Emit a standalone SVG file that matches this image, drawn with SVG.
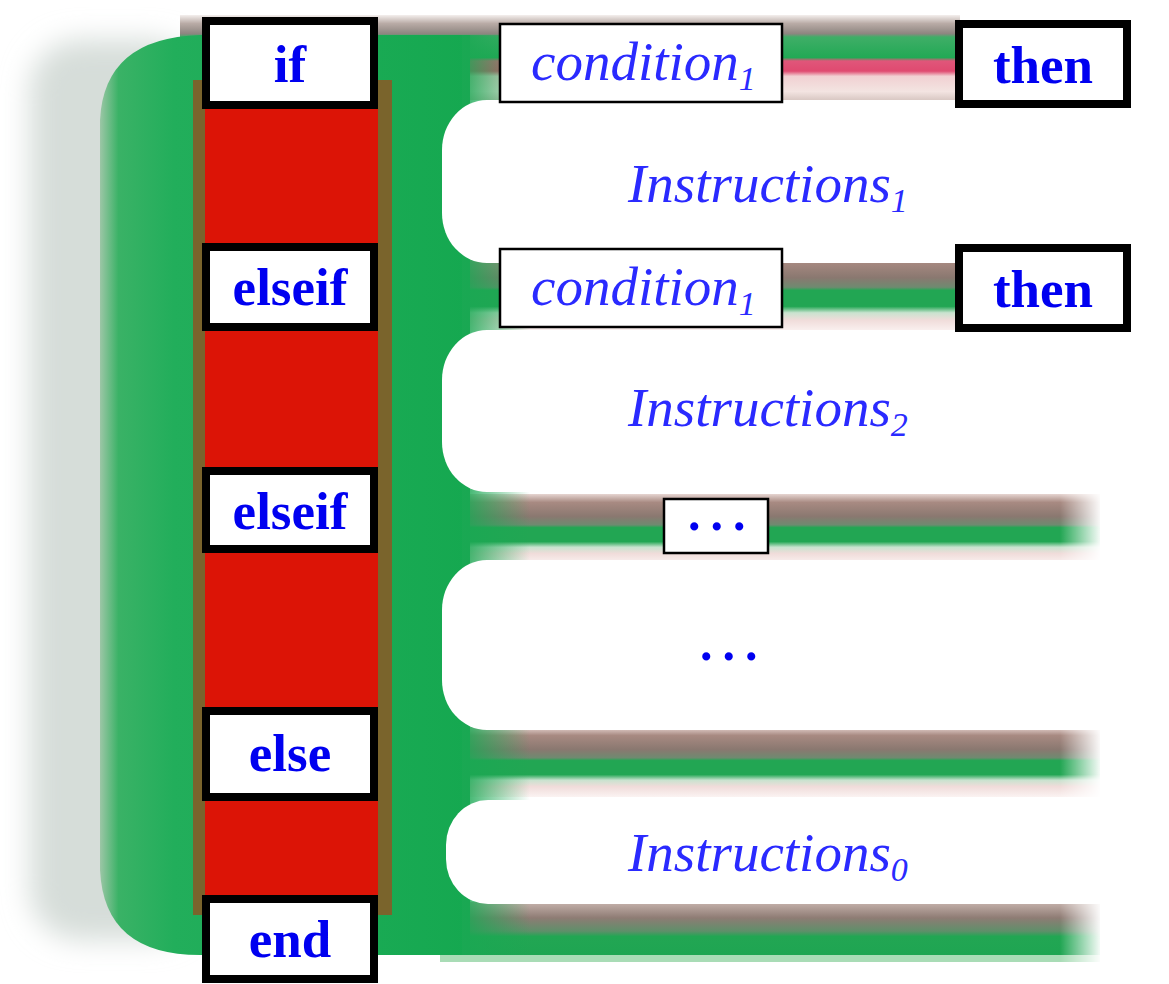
<svg xmlns="http://www.w3.org/2000/svg" width="1169" height="984" viewBox="0 0 1169 984">
<defs>
<style>
.kw rect{fill:#fff;stroke:#000;stroke-width:8}
.cb rect{fill:#fff;stroke:#000;stroke-width:2.5}
.kwt{font-family:"Liberation Serif",serif;font-weight:bold;font-size:53px;fill:#0000f0;text-anchor:middle}
.it{font-family:"Liberation Serif",serif;font-style:italic;font-size:55px;fill:#2a2aff}
.sub{font-size:34px}
.dots{font-family:"Liberation Serif",serif;font-weight:bold;font-size:50px;fill:#0000f0;letter-spacing:10px}
.pill{fill:#fff}
</style>
<filter id="blur" x="-50%" y="-10%" width="200%" height="120%"><feGaussianBlur stdDeviation="14"/></filter>
<linearGradient id="bodyG" gradientUnits="userSpaceOnUse" x1="100" y1="0" x2="470" y2="0">
<stop offset="0" stop-color="#9cc6a6"/><stop offset="0.05" stop-color="#3ab266"/><stop offset="0.2" stop-color="#22ae5b"/><stop offset="1" stop-color="#15a850"/>
</linearGradient>
<linearGradient id="b1G" x1="0" y1="0" x2="0" y2="1">
<stop offset="0" stop-color="#f4efed"/><stop offset="0.1" stop-color="#b9aba6"/><stop offset="0.22" stop-color="#8d8580"/><stop offset="0.26" stop-color="#3fae67"/><stop offset="0.5" stop-color="#22a955"/><stop offset="0.54" stop-color="#e0567a"/><stop offset="0.66" stop-color="#e04a70"/><stop offset="0.72" stop-color="#f1d0d2"/><stop offset="0.9" stop-color="#f3e4e1"/><stop offset="1" stop-color="#d9c8c3"/>
</linearGradient>
<linearGradient id="bG" x1="0" y1="0" x2="0" y2="1">
<stop offset="0" stop-color="#e6d5d1"/><stop offset="0.12" stop-color="#a88a82"/><stop offset="0.32" stop-color="#8a7870"/><stop offset="0.44" stop-color="#6f8a70"/><stop offset="0.48" stop-color="#22a653"/><stop offset="0.68" stop-color="#22a653"/><stop offset="0.76" stop-color="#c9e3cf"/><stop offset="0.85" stop-color="#f0dcda"/><stop offset="1" stop-color="#fbf3f2"/>
</linearGradient>
<linearGradient id="b5G" x1="0" y1="0" x2="0" y2="1">
<stop offset="0" stop-color="#c7b3ad"/><stop offset="0.3" stop-color="#8e7c74"/><stop offset="0.55" stop-color="#5f8f6a"/><stop offset="0.65" stop-color="#22a653"/><stop offset="1" stop-color="#1fa552"/>
</linearGradient>
<linearGradient id="greenFade" gradientUnits="userSpaceOnUse" x1="462" y1="0" x2="530" y2="0">
<stop offset="0" stop-color="#1aa853" stop-opacity="0.9"/><stop offset="1" stop-color="#1aa853" stop-opacity="0"/>
</linearGradient>
<linearGradient id="mg" gradientUnits="userSpaceOnUse" x1="1060" y1="0" x2="1102" y2="0">
<stop offset="0" stop-color="#fff"/><stop offset="1" stop-color="#000"/>
</linearGradient>
<mask id="mR" maskUnits="userSpaceOnUse" x="0" y="0" width="1169" height="984">
<rect x="0" y="0" width="1169" height="984" fill="url(#mg)"/>
</mask>
</defs>
<rect width="1169" height="984" fill="#fff"/>

<g id="background">
<rect x="30" y="40" width="170" height="900" rx="50" fill="#d6ddd9" filter="url(#blur)"/>
<rect x="180" y="15" width="780" height="85" fill="url(#b1G)"/>
<g mask="url(#mR)">
<rect x="440" y="252" width="660" height="80" fill="url(#bG)"/>
<rect x="440" y="494" width="660" height="70" fill="url(#bG)"/>
<rect x="440" y="727" width="660" height="70" fill="url(#bG)"/>
<rect x="440" y="902" width="660" height="53" fill="url(#b5G)"/>
<rect x="440" y="955" width="660" height="7" fill="#a9dcb6"/>
</g>
<path d="M200 35 L470 35 L470 955 L200 955 Q104 955 100 870 L100 120 Q104 38 200 35 Z" fill="url(#bodyG)"/>
<rect x="462" y="35" width="68" height="920" fill="url(#greenFade)"/>
</g>

<g id="pills">
<rect class="pill" x="442" y="100" width="760" height="163" rx="45" ry="50"/>
<rect class="pill" x="442" y="330" width="760" height="162" rx="45" ry="50"/>
<rect class="pill" x="442" y="560" width="760" height="170" rx="45" ry="50"/>
<rect class="pill" x="446" y="800" width="756" height="104" rx="42" ry="45"/>
</g>

<g id="bar">
<rect x="193" y="80" width="199" height="835" fill="#7a642c"/>
<rect x="205" y="82" width="173" height="830" fill="#dc1406"/>
</g>

<g id="connectors"></g>

<g id="n-if" class="kw"><rect x="206" y="21" width="168" height="84"/><text class="kwt" x="290" y="82">if</text></g>
<g id="n-elseif1" class="kw"><rect x="206" y="247" width="168" height="80"/><text class="kwt" x="290" y="305">elseif</text></g>
<g id="n-elseif2" class="kw"><rect x="206" y="471" width="168" height="78"/><text class="kwt" x="290" y="529">elseif</text></g>
<g id="n-else" class="kw"><rect x="206" y="711" width="168" height="86"/><text class="kwt" x="290" y="771">else</text></g>
<g id="n-end" class="kw"><rect x="206" y="899" width="168" height="80"/><text class="kwt" x="290" y="957">end</text></g>

<g id="n-cond1" class="cb"><rect x="500" y="24" width="282" height="78"/><text class="it" x="531" y="80">condition<tspan class="sub" dy="10">1</tspan></text></g>
<g id="n-then1" class="kw"><rect x="959" y="24" width="168" height="80"/><text class="kwt" x="1043" y="83">then</text></g>
<g id="n-cond2" class="cb"><rect x="500" y="249" width="282" height="78"/><text class="it" x="531" y="305">condition<tspan class="sub" dy="10">1</tspan></text></g>
<g id="n-then2" class="kw"><rect x="959" y="248" width="168" height="80"/><text class="kwt" x="1043" y="307">then</text></g>
<g id="n-dots" class="cb"><rect x="664" y="499" width="104" height="54"/><text class="dots" x="688" y="530">...</text></g>

<g id="n-instr1"><text class="it" x="628" y="202">Instructions<tspan class="sub" dy="10">1</tspan></text></g>
<g id="n-instr2"><text class="it" x="628" y="426">Instructions<tspan class="sub" dy="10">2</tspan></text></g>
<g id="n-instrdots"><text class="dots" x="700" y="660">...</text></g>
<g id="n-instr0"><text class="it" x="628" y="871">Instructions<tspan class="sub" dy="10">0</tspan></text></g>
</svg>
